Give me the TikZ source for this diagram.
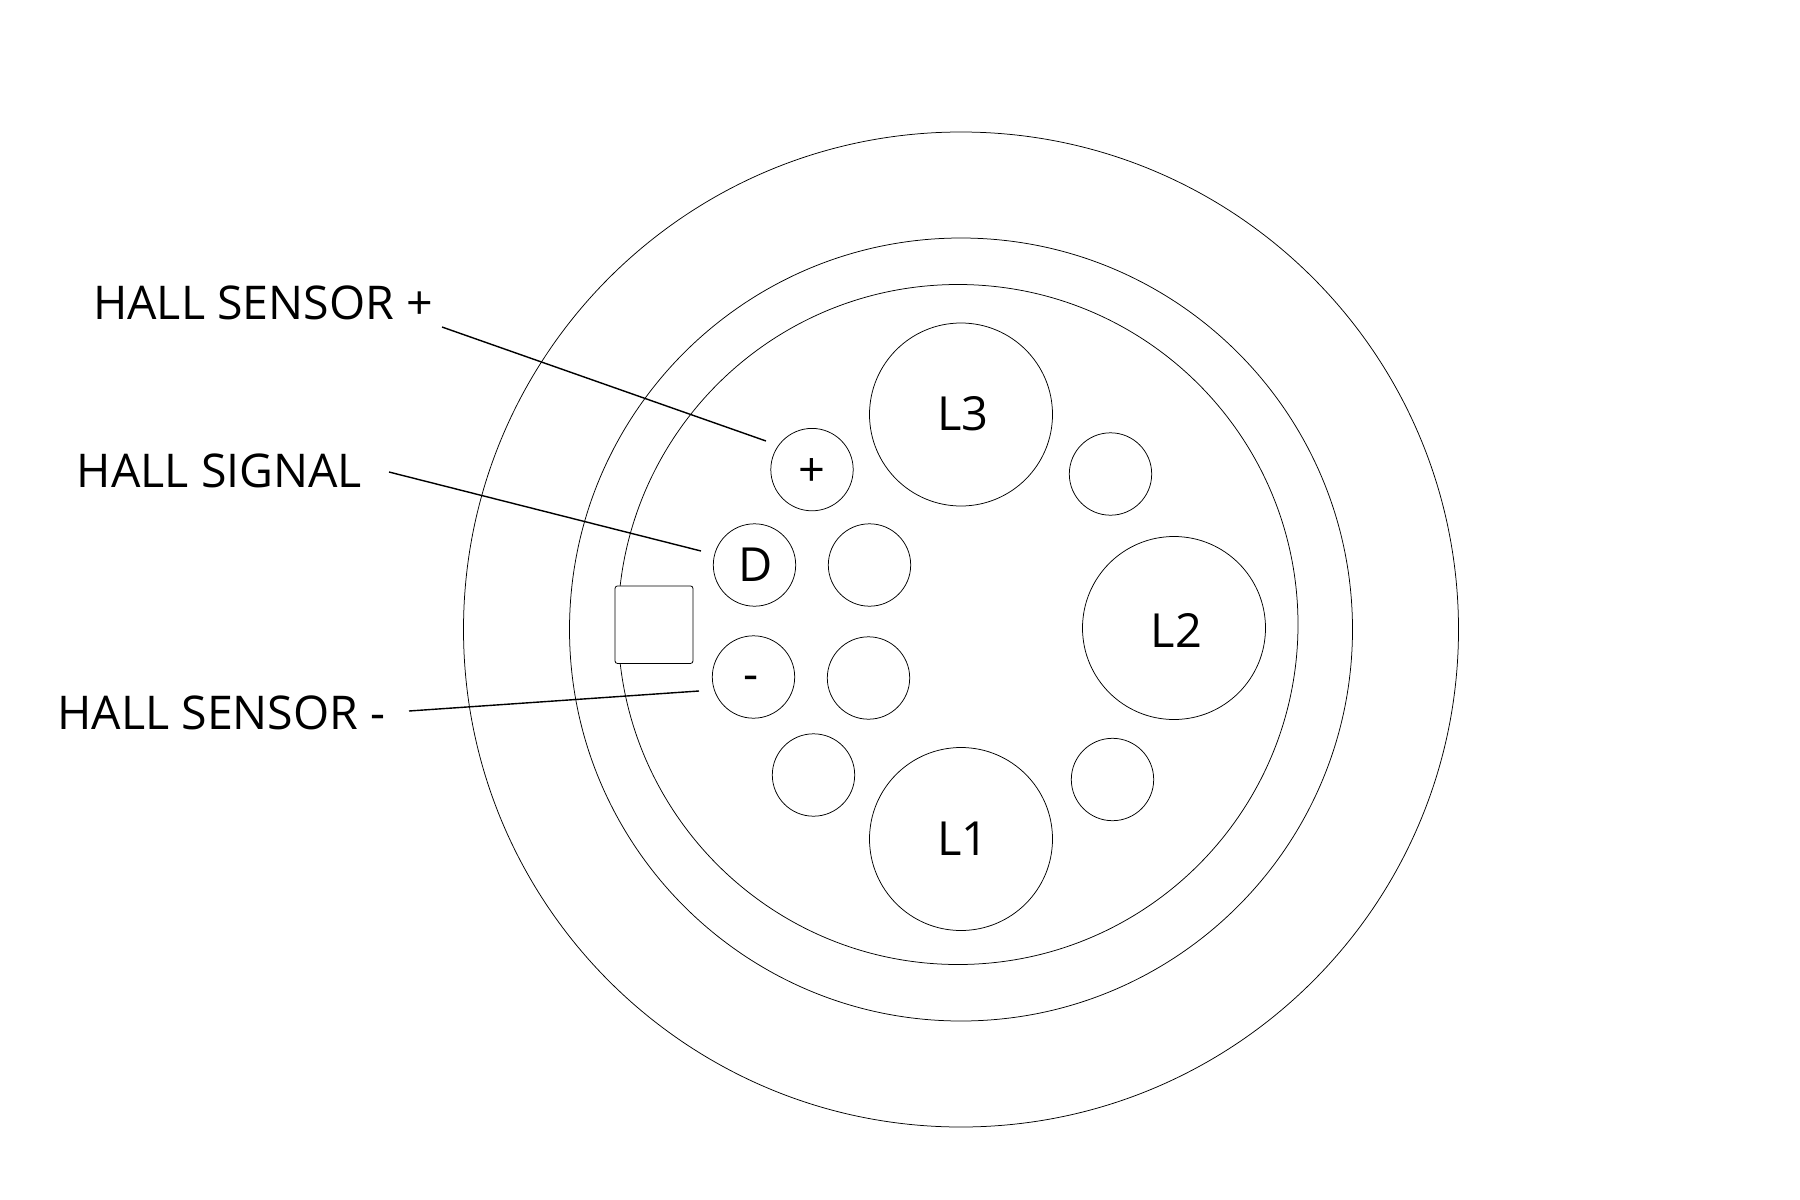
\documentclass[tikz,border=0pt]{standalone}
\usepackage{fontspec}
\setmainfont{Open Sans}
\tikzset{
  x=1pt,y=-1pt,
  ring/.style={circle,draw=black,line width=0.75pt,inner sep=0pt,outer sep=0pt,minimum size=#1},
  big/.style={ring=183pt},
  small/.style={ring=82.4pt},
  pin/.style={inner sep=0pt,font=\fontsize{47}{50}\selectfont},
  lab/.style={anchor=base,inner sep=0pt,font=\fontsize{46.5}{50}\selectfont},
  lead/.style={draw=black,line width=1.4pt},
}
\begin{document}
\begin{tikzpicture}
\useasboundingbox (0,0) rectangle (1800,1200);
\node[ring=995pt] (outer) at (961,629.5) {};
\node[ring=783pt] (middle) at (961,629.5) {};
\node[ring=680pt] (inner) at (958,624.5) {};
\node[big] (L3) at (961,414.5) {};
\node[big] (L2) at (1174,628) {};
\node[big] (L1) at (961,839) {};
\node[small] (plus) at (812,469.6) {};
\node[small] (tr) at (1110.5,474) {};
\node[small] (D) at (754.5,565) {};
\node[small] (c1) at (869.5,565) {};
\node[small] (minus) at (753.5,677) {};
\node[small] (c2) at (868.5,678) {};
\node[small] (bl) at (813.5,775) {};
\node[small] (br) at (1112.5,779.5) {};
\node[pin] (tL3) at (963,414) {L3};
\node[pin] (tL2) at (1176.5,630.5) {L2};
\node[pin] (tL1) at (963,839) {L1};
\node[pin] (tplus) at (812,473) {+};
\node[pin] (tD) at (756,565) {D};
\node[pin] (tminus) at (751,683) {-};
\node[draw=black,fill=white,line width=0.8pt,rounded corners=2.5pt,inner sep=0pt,outer sep=0pt,minimum width=78pt,minimum height=77.5pt] (chip) at (654,624.7) {};
\node[lab] (t1) at (263,319) {HALL SENSOR +};
\node[lab] (t2) at (219.5,487) {HALL SIGNAL};
\node[lab] (t3) at (221.5,729) {HALL SENSOR -};
\coordinate (a1) at (442,327);
\coordinate (b1) at (766,441);
\coordinate (a2) at (389,472);
\coordinate (b2) at (701,551);
\coordinate (a3) at (409,711);
\coordinate (b3) at (699,691);
\draw[lead] (a1) -- (b1);
\draw[lead] (a2) -- (b2);
\draw[lead] (a3) -- (b3);
\end{tikzpicture}
\end{document}
